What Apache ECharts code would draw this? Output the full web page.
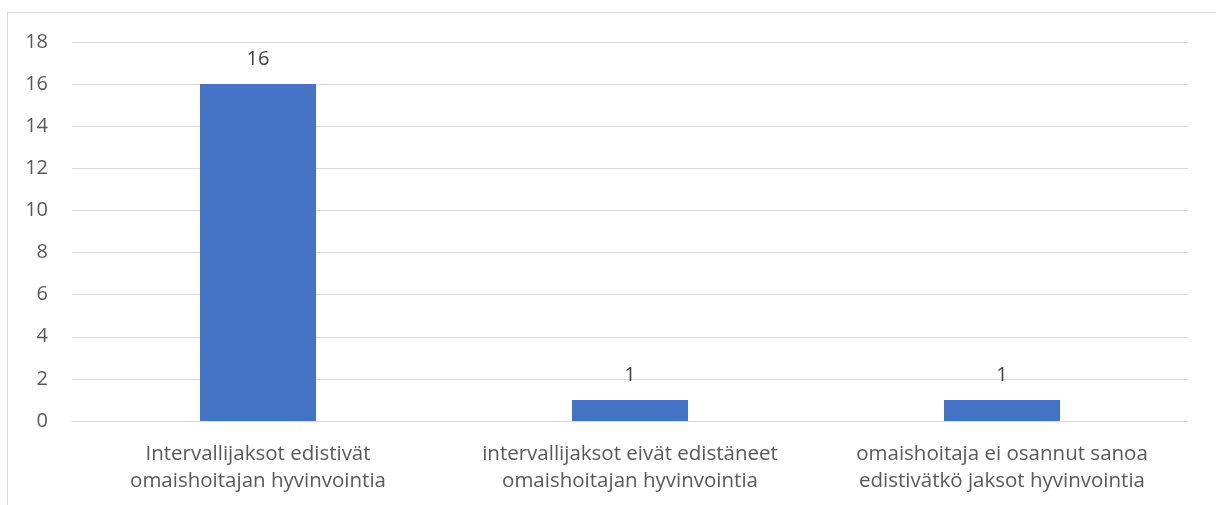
<!DOCTYPE html>
<html>
<head>
<meta charset="utf-8">
<script src="https://cdn.jsdelivr.net/npm/echarts@6/dist/echarts.min.js"></script>
<style>
  html, body { margin: 0; padding: 0; background: #fff; }
  #frame { position: absolute; left: 7px; top: 12px; width: 1240px; height: 520px; border: 1px solid #d9d9d9; box-sizing: border-box; }
  #chart { position: absolute; left: 0; top: 0; width: 1216px; height: 505px; }
</style>
</head>
<body>
<div id="frame"></div>
<div id="chart"></div>
<script>
const categories = [
  'Intervallijaksot edistivät\nomaishoitajan hyvinvointia',
  'intervallijaksot eivät edistäneet\nomaishoitajan hyvinvointia',
  'omaishoitaja ei osannut sanoa\nedistivätkö jaksot hyvinvointia'
];
const counts = [16, 1, 1];
const yMin = 0, yMax = 18, yStep = 2;

const fontFamily = '"Open Sans", "Liberation Sans", sans-serif';
const chart = echarts.init(document.getElementById('chart'), null, { renderer: 'canvas' });
chart.setOption({
  animation: false,
  backgroundColor: 'transparent',
  grid: { left: 72, right: 28, top: 42, bottom: 84, containLabel: false },
  xAxis: {
    type: 'category',
    data: categories,
    axisLine: { lineStyle: { color: '#d9d9d9', width: 1 } },
    axisTick: { show: false },
    axisLabel: {
      color: '#595959', fontSize: 20.5, fontFamily, lineHeight: 27, margin: 20, interval: 0
    }
  },
  yAxis: {
    type: 'value',
    min: yMin, max: yMax, interval: yStep,
    axisLine: { show: false },
    axisTick: { show: false },
    splitLine: { lineStyle: { color: '#d9d9d9', width: 1 } },
    axisLabel: { color: '#595959', fontSize: 20, fontFamily, margin: 24 }
  },
  series: [{
    type: 'bar',
    data: counts,
    barWidth: 116,
    itemStyle: { color: '#4472C4' },
    label: {
      show: true, position: 'top', distance: 15,
      color: '#404040', fontSize: 20, fontFamily
    }
  }]
});
</script>
</body>
</html>
